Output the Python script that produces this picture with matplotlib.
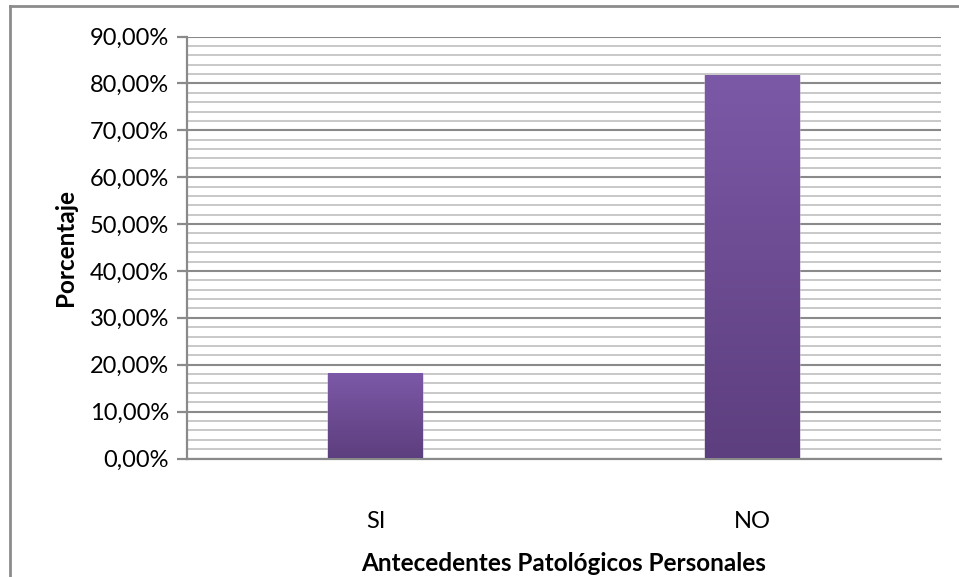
import matplotlib
matplotlib.use("Agg")
import matplotlib.pyplot as plt
import numpy as np
from matplotlib.lines import Line2D
from matplotlib.ticker import MultipleLocator, FuncFormatter

categories = ["SI", "NO"]
values = [18.18, 81.82]
y_ticks = [0, 10, 20, 30, 40, 50, 60, 70, 80, 90]
x_label = "Antecedentes Patológicos Personales"
y_label = "Porcentaje"

plt.rcParams["font.family"] = ["Lato", "DejaVu Sans"]

fig = plt.figure(figsize=(9.59, 5.77), dpi=100)
ax = fig.add_axes([187 / 959, 1 - 458.5 / 577, (941 - 187) / 959, (458.5 - 36.5) / 577])

x = np.arange(len(categories))
bar_w = 0.25
bars = ax.bar(x, values, width=bar_w, color="none", edgecolor="none", zorder=3)

# vertical purple gradient fill for each bar
grad = np.linspace(0, 1, 256).reshape(-1, 1)
top = np.array([0x7C, 0x59, 0xA7]) / 255
bot = np.array([0x5D, 0x3E, 0x7E]) / 255
img = (top[None, None, :] * (1 - grad[..., None]) + bot[None, None, :] * grad[..., None])
for b in bars:
    x0, w, h = b.get_x(), b.get_width(), b.get_height()
    # soft shadow around the bar
    ax.bar(x0 + w / 2, h, width=w * 1.03, color="#b9aec7", alpha=0.45, zorder=2.5, edgecolor="none")
    im = ax.imshow(img, extent=(x0, x0 + w, 0, h), aspect="auto", zorder=3, interpolation="bicubic")
    im.set_clip_path(b)

ax.set_xlim(-0.5, len(categories) - 0.5)
ax.set_ylim(0, 90)
ax.set_yticks(y_ticks)
ax.yaxis.set_minor_locator(MultipleLocator(2))
ax.yaxis.set_major_formatter(FuncFormatter(lambda v, p: f"{v:.2f}%".replace(".", ",")))
ax.set_xticks(x)
ax.set_xticklabels(categories)

ax.grid(which="minor", axis="y", color="#c4c4c4", linewidth=1.3, zorder=0)
ax.grid(which="major", axis="y", color="#8a8a8a", linewidth=1.5, zorder=1)
ax.set_axisbelow(True)

for s in ["top", "right"]:
    ax.spines[s].set_visible(False)
for s in ["left", "bottom"]:
    ax.spines[s].set_color("#8a8a8a")
    ax.spines[s].set_linewidth(1.6)

ax.tick_params(axis="y", which="major", direction="out", length=7, width=1.6, color="#8a8a8a",
               labelsize=17, pad=6, labelcolor="black")
ax.tick_params(axis="y", which="minor", length=0)
ax.tick_params(axis="x", length=0, labelsize=17, pad=38, labelcolor="black")

ax.set_xlabel(x_label, fontsize=17.5, fontweight="bold", labelpad=14)
ax.set_ylabel(y_label, fontsize=17.5, fontweight="bold", labelpad=9)

# chart frame (top and left edges)
fig.add_artist(Line2D([10 / 959, 10 / 959], [0, 1 - 6 / 577], transform=fig.transFigure,
                      color="#8c8c8c", linewidth=2))
fig.add_artist(Line2D([10 / 959, 1], [1 - 6 / 577, 1 - 6 / 577], transform=fig.transFigure,
                      color="#8c8c8c", linewidth=2))

fig.savefig("out.png", dpi=100, facecolor="white")
